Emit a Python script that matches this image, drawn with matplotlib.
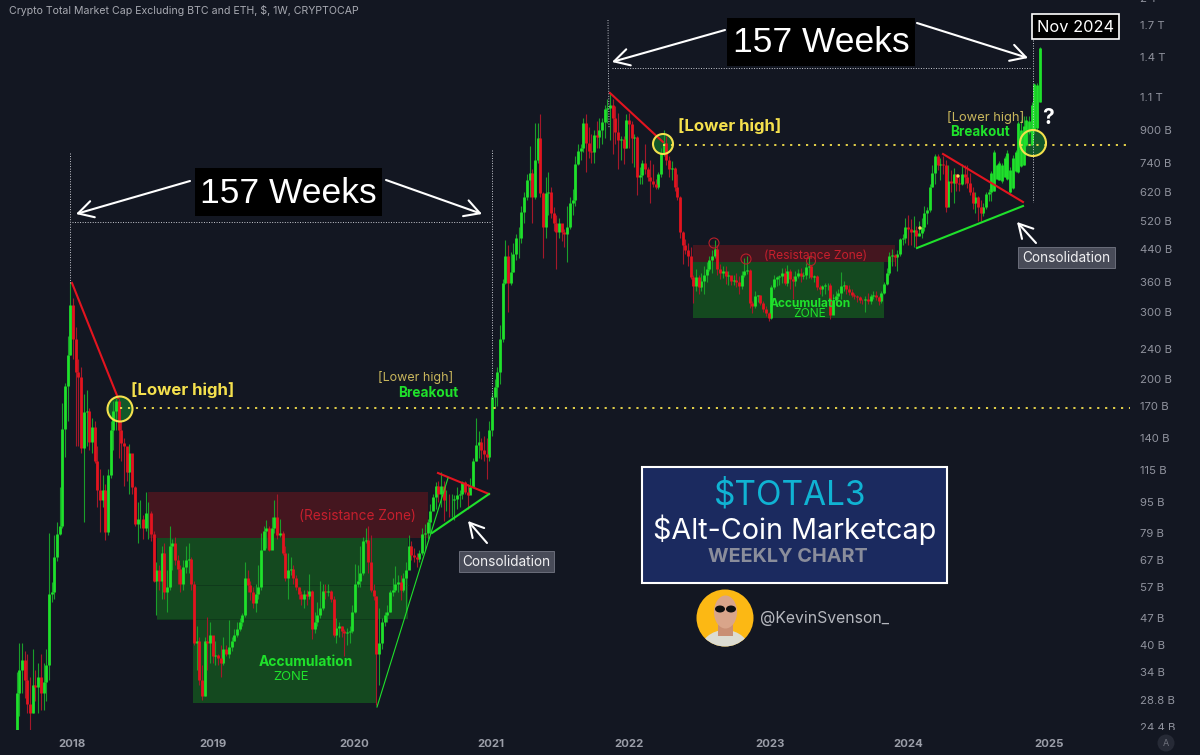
import matplotlib
matplotlib.use("Agg")
from matplotlib import pyplot as plt
from matplotlib.patches import Rectangle, Circle, Ellipse
from matplotlib.lines import Line2D
from matplotlib.transforms import Affine2D
import numpy as np

# weekly candles, values in billions
closes = [
    30, 34.5, 36.5, 32.5, 28, 26.5, 31.5, 31, 33, 30,
    32, 35.5, 54.5, 55, 68, 78.5, 82, 148, 192, 231,
    313, 255, 208, 203, 132, 164, 165, 137, 150, 122,
    102, 96, 102, 79.5, 112, 147, 165, 175, 147, 136,
    133, 114, 128, 104, 83, 86, 86, 81, 89, 89,
    78.5, 59, 63, 59, 70, 55, 57, 73, 74, 67,
    63.5, 58, 64, 67, 67.5, 58, 40.5, 41, 32.5, 29.5,
    41, 40.5, 42.5, 37.5, 37.8, 37, 36, 39, 38, 39.5,
    41, 42.5, 44, 46, 48, 60, 57.5, 55, 51.5, 54.5,
    57, 71, 80, 81, 71, 81, 87, 78, 79, 70,
    60, 63, 63.5, 60, 57, 54.5, 53, 54.5, 54, 55.5,
    44, 46, 48, 50, 55.5, 55, 55.5, 53, 42.5, 44.5,
    45, 43.5, 43, 43.2, 43.5, 49, 58, 59, 62, 75,
    75.5, 66, 56, 54, 38, 40.5, 46, 48, 49, 55,
    56, 58, 58.5, 56, 60, 63, 73, 69, 68, 67.5,
    70, 78.5, 79, 84, 90, 98, 105, 100, 105, 96,
    96.5, 96, 96.5, 97, 99, 99.5, 107, 101, 99, 104,
    122, 134, 137, 130, 127, 125, 147, 179, 190, 209,
    255, 357, 420, 358, 382, 425, 468, 470, 549, 600,
    666, 695, 600, 751, 860, 614, 500, 617, 620, 545,
    513, 485, 513, 485, 480, 500, 580, 590, 735, 795,
    810, 940, 833, 795, 790, 875, 865, 900, 943, 1020,
    1030, 1050, 970, 890, 850, 855, 810, 960, 935, 860,
    865, 680, 685, 740, 710, 680, 660, 650, 640, 690,
    785, 833, 750, 710, 715, 640, 600, 485, 450, 435,
    420, 370, 350, 370, 348, 362, 375, 390, 410, 420,
    440, 390, 380, 385, 373, 375, 362, 364, 360, 350,
    375, 385, 387, 316, 310, 330, 332, 316, 306, 298,
    290, 348, 365, 370, 372, 380, 358, 385, 365, 362,
    373, 380, 373, 375, 393, 395, 370, 372, 348, 345,
    350, 352, 354, 294, 323, 330, 336, 350, 352, 345,
    338, 333, 330, 328, 323, 322, 324, 320, 330, 333,
    328, 320, 336, 355, 380, 420, 422, 418, 425, 465,
    470, 500, 495, 485, 492, 475, 484, 500, 545, 555,
    640, 695, 770, 730, 735, 730, 566, 660, 655, 690,
    655, 650, 690, 680, 655, 620, 580, 600, 566, 545,
    566, 612, 620, 695, 790, 730, 740, 730, 760, 785,
    706, 760, 790, 940, 900, 925, 955, 950, 1050, 1190,
    1180, 1480,
]
highs = [
    34, 40.5, 40.5, 38.5, 38, 33, 39, 34.5, 36, 38,
    36, 39, 79, 58.5, 78, 84, 104, 173, 195, 260,
    360, 327, 274, 225, 215, 183, 187, 168, 158, 155,
    133, 116, 112, 106, 116, 155, 175, 178, 178, 155,
    140, 130, 135, 112, 105, 95, 96, 88, 101, 95,
    90, 80, 66, 65, 73, 74, 63, 82, 76, 77,
    69, 65, 67, 73, 74, 68, 59, 45, 42, 35.5,
    42, 47.5, 46, 42, 41, 38, 40, 42, 40, 46.5,
    42, 44, 46, 47, 48.5, 66, 63, 59, 57, 58,
    65, 79, 82, 85, 82, 87, 96, 100, 86, 80,
    73, 70, 68, 65, 61, 57, 55.5, 56, 56, 61.5,
    56, 49, 52, 59, 58, 58, 58, 56, 54, 47,
    46, 45, 44, 44.5, 45, 51, 65.5, 65, 73, 77,
    81, 82, 78, 58, 54, 50, 47, 49, 51, 56,
    60, 64.5, 61, 61, 62, 66, 78, 75, 72, 70,
    71, 81, 83, 86, 94, 100, 107, 108, 114, 108,
    102, 100, 100, 99, 104, 102, 108, 108, 106, 110,
    124, 158, 146, 140, 142, 140, 155, 185, 200, 215,
    278, 365, 462, 449, 430, 455, 480, 500, 570, 620,
    690, 820, 710, 940, 940, 995, 620, 680, 700, 640,
    565, 540, 530, 510, 495, 570, 600, 630, 770, 830,
    830, 970, 990, 920, 880, 900, 950, 970, 970, 1050,
    1090, 1130, 1090, 1040, 1000, 870, 870, 990, 1000, 950,
    880, 870, 720, 750, 830, 720, 750, 735, 670, 700,
    810, 900, 870, 770, 745, 720, 690, 605, 490, 465,
    455, 445, 375, 390, 375, 380, 395, 405, 420, 435,
    462, 450, 400, 397, 397, 385, 373, 375, 380, 372,
    385, 415, 420, 390, 320, 340, 333, 333, 320, 310,
    300, 352, 375, 372, 374, 392, 392, 398, 390, 372,
    385, 390, 392, 382, 402, 420, 398, 375, 375, 352,
    352, 358, 358, 358, 335, 340, 345, 382, 362, 352,
    352, 345, 336, 333, 330, 325, 330, 336, 335, 340,
    340, 330, 340, 360, 392, 430, 440, 425, 435, 470,
    480, 530, 540, 525, 535, 505, 521, 530, 570, 565,
    650, 730, 780, 780, 760, 770, 750, 730, 706, 715,
    690, 680, 735, 730, 730, 695, 640, 620, 605, 590,
    580, 620, 630, 705, 800, 735, 745, 740, 770, 800,
    720, 775, 800, 950, 960, 980, 980, 980, 1070, 1200,
    1195, 1490,
]
lows = [
    24, 26, 30, 29, 26.5, 24, 26.5, 28.5, 26.5, 27,
    27, 28.5, 32.5, 52, 53, 66.5, 78, 81, 125, 155,
    231, 225, 133, 133, 128, 84, 133, 130, 128, 120,
    92, 79.5, 92, 75.5, 78, 110, 130, 147, 124, 122,
    105, 108, 100, 100, 82, 74, 81, 76, 80, 76,
    75, 58.5, 48, 56, 53, 53, 49, 56, 63, 65,
    58, 55, 56, 62, 62, 56, 40, 34.5, 31.5, 28.8,
    29.5, 34.5, 36, 36, 35.5, 35.5, 33, 35.5, 37.5, 37,
    38.5, 41, 42, 43.5, 45, 47.5, 55, 52.5, 50, 49,
    53, 56, 71, 72, 70.5, 72, 79, 76, 77, 69,
    59, 53, 61, 58, 56, 53, 51, 50, 51, 53,
    41.5, 43, 45, 47, 49.5, 53, 54, 52, 42, 40.5,
    42, 42, 37.5, 40, 40.5, 43, 48.5, 57, 57, 61,
    74, 62, 55, 52.5, 27.8, 31.5, 39, 45, 46, 49,
    54, 55, 55, 52.5, 55, 49, 67, 67, 66, 64,
    66, 69, 71, 76, 79, 91, 91, 95, 92, 84.5,
    90, 87, 87, 85, 91, 92, 97, 100, 91, 100,
    104, 122, 124, 123, 122, 109, 122, 142, 168, 170,
    194, 250, 355, 300, 352, 382, 410, 415, 455, 513,
    590, 600, 513, 595, 740, 600, 415, 470, 540, 530,
    490, 390, 470, 460, 445, 406, 495, 540, 570, 730,
    750, 790, 700, 760, 740, 740, 810, 810, 830, 860,
    940, 850, 780, 830, 710, 750, 735, 810, 810, 740,
    720, 610, 650, 650, 690, 660, 580, 640, 630, 630,
    680, 770, 730, 680, 665, 625, 590, 470, 400, 425,
    395, 365, 316, 340, 335, 340, 335, 360, 385, 380,
    415, 375, 365, 368, 355, 352, 352, 352, 348, 335,
    345, 370, 378, 308, 298, 308, 318, 312, 300, 292,
    284, 288, 345, 350, 352, 358, 352, 350, 345, 325,
    350, 368, 360, 365, 365, 368, 365, 360, 342, 335,
    330, 335, 342, 288, 315, 312, 325, 325, 340, 335,
    332, 328, 325, 318, 316, 314, 300, 314, 314, 324,
    323, 312, 316, 335, 352, 375, 395, 395, 385, 420,
    450, 455, 450, 450, 445, 445, 475, 470, 490, 510,
    550, 640, 650, 706, 665, 690, 550, 580, 620, 580,
    625, 625, 645, 650, 635, 610, 560, 545, 520, 520,
    535, 560, 585, 585, 625, 670, 665, 655, 680, 665,
    615, 630, 700, 695, 720, 730, 820, 880, 825, 880,
    900, 1070,
]
# the last weeks open away from the prior close
gap_opens = {
    364: 625, 365: 670, 366: 665, 367: 660, 368: 680, 369: 670, 370: 620,
    371: 635, 372: 705, 373: 700, 374: 725, 375: 730, 376: 825, 377: 890,
    378: 825, 379: 900, 380: 910, 381: 1070,
}
first_open = 24

y_ticks = [2000, 1700, 1400, 1100, 900, 740, 620, 520, 440, 360, 300, 240, 200,
           170, 140, 115, 95, 79, 67, 57, 47, 40, 34, 28.8, 24.4]
y_tick_labels = ["2 T", "1.7 T", "1.4 T", "1.1 T", "900 B", "740 B", "620 B", "520 B",
                 "440 B", "360 B", "300 B", "240 B", "200 B", "170 B", "140 B", "115 B",
                 "95 B", "79 B", "67 B", "57 B", "47 B", "40 B", "34 B", "28.8 B", "24.4 B"]
year_weeks = [20.6, 73.1, 125.6, 176.7, 228, 280.6, 332, 384.5]
year_labels = ["2018", "2019", "2020", "2021", "2022", "2023", "2024", "2025"]

BG = "#131722"
GREEN = "#1fe12b"
RED = "#e3141f"
YELLOW = "#f4e04d"
TICK_GREY = "#8f929d"

opens = [first_open] + closes[:-1]
for k, v in gap_opens.items():
    opens[k] = v
opens = np.array(opens, dtype=float)
closes = np.array(closes, dtype=float)
highs = np.array(highs, dtype=float)
lows = np.array(lows, dtype=float)
weeks = np.arange(len(closes))
up = closes >= opens

fig = plt.figure(figsize=(12, 7.55), dpi=100, facecolor=BG)
# main axes runs a bit above the canvas so the 2 T label gets cut like the original
ax = fig.add_axes([0, 0, 1, 775 / 755], facecolor=BG)
ax.set_yscale("log")
ax.set_xlim(-6.22, 440.7)
ax.set_ylim(1700 * np.exp(-730 / 165.4), 1700 * np.exp(45 / 165.4))
ax.yaxis.tick_right()
ax.set_yticks(y_ticks, y_tick_labels)
ax.yaxis.set_minor_locator(matplotlib.ticker.NullLocator())
ax.tick_params(axis="y", length=0, pad=-43.5, labelsize=8.2, labelcolor=TICK_GREY)
ax.set_xticks([])
for side in ax.spines.values():
    side.set_visible(False)

# pixel coordinates, top-left origin, for the hand drawn overlays
PX = Affine2D().scale(1, -1).translate(0, 755)


def zone(x0, y0, x1, y1, color, z=1):
    ax.add_patch(Rectangle((x0, y0), x1 - x0, y1 - y0, transform=PX, facecolor=color,
                           edgecolor="none", zorder=z, clip_on=False))


def seg(x0, y0, x1, y1, color, lw=1.5, ls="-", z=5):
    ax.add_line(Line2D([x0, x1], [y0, y1], transform=PX, color=color, lw=lw, ls=ls,
                       zorder=z, clip_on=False))


def arrow(x0, y0, x1, y1, lw=1.5, size=12):
    ax.annotate("", xy=(x1, y1), xytext=(x0, y0), xycoords=PX, textcoords=PX, zorder=7,
                arrowprops=dict(arrowstyle="->,head_length=0.9,head_width=0.5", color="white",
                                lw=lw, mutation_scale=size, shrinkA=0, shrinkB=0))


def label(x, y, s, color="white", size=10, weight="normal", ha="center", family="Inter", z=8, **kw):
    return ax.text(x, y, s, transform=PX, color=color, fontsize=size, fontweight=weight,
                   ha=ha, va="center", family=family, zorder=z, clip_on=False, **kw)


# zones
zone(148, 492, 428, 538, "#44161f")
zone(157, 538, 408, 619, "#14491f")
zone(193, 619, 377, 703, "#14491f")
seg(193, 585, 408, 585, "#0f3a1b", lw=0.7, z=1.5)
seg(157, 619, 377, 619, "#0f3a1b", lw=0.7, z=1.5)
zone(693, 245, 895, 262, "#44161f")
zone(693, 262, 884, 318, "#14491f")

# candles
ax.vlines(weeks[up], lows[up], highs[up], color="#1a9f2a", lw=0.8, zorder=3)
ax.vlines(weeks[~up], lows[~up], highs[~up], color="#a5182a", lw=0.8, zorder=3)
ax.vlines(weeks[up], opens[up], closes[up], color=GREEN, lw=2.0, zorder=4, capstyle="butt")
ax.vlines(weeks[~up], opens[~up], closes[~up], color=RED, lw=2.0, zorder=4, capstyle="butt")

# trend lines
seg(72, 283, 118, 398, RED, lw=1.5)
seg(610, 93, 663, 142, RED, lw=1.5)
seg(438, 473, 489, 494, RED, lw=1.5)
seg(943, 154, 1023, 202, RED, lw=1.5)
seg(432, 533, 489, 494, GREEN, lw=1.5)
seg(917, 248, 1023, 206, GREEN, lw=1.5)
seg(377, 707, 448, 478, GREEN, lw=0.8)

# level lines
dots = (0, (1.2, 3.2))
seg(120, 408, 1130, 408, YELLOW, lw=1.3, ls=dots, z=4.5)
seg(663, 145, 1130, 145, YELLOW, lw=1.3, ls=dots, z=4.5)
fine = (0, (1, 1.6))
seg(70, 153, 70, 283, "#c9cbd2", lw=0.7, ls=fine)
seg(492, 150, 492, 400, "#c9cbd2", lw=0.7, ls=fine)
seg(608, 20, 609, 128, "#c9cbd2", lw=0.7, ls=fine)
seg(1033, 40, 1033, 202, "#c9cbd2", lw=0.7, ls=fine)
seg(72, 222, 490, 222, "#c9cbd2", lw=0.7, ls=fine)
seg(612, 68, 1030, 68, "#c9cbd2", lw=0.7, ls=fine)

# circles
for cx, cy, r in [(120, 409, 12.5), (663, 144, 10), (1033, 143, 13)]:
    ax.add_patch(Circle((cx, cy), r, transform=PX, facecolor="#14602a", alpha=0.9,
                        edgecolor="none", zorder=2.5, clip_on=False))
    ax.add_patch(Circle((cx, cy), r, transform=PX, facecolor="none", edgecolor=YELLOW,
                        lw=1.5, zorder=6, clip_on=False))
for cx, cy, r in [(714, 243, 5), (746, 259, 5), (811, 261, 4.5)]:
    ax.add_patch(Circle((cx, cy), r, transform=PX, facecolor="none", edgecolor="#b8202a",
                        lw=0.8, zorder=6, clip_on=False))
for cx, cy in [(958, 176), (920, 228)]:
    ax.add_patch(Circle((cx, cy), 1.7, transform=PX, facecolor="#f6d65a", edgecolor="none",
                        zorder=6, clip_on=False))

# 157 weeks labels
zone(195, 168, 382, 216, "black", z=6)
label(288.5, 193.5, "157 Weeks", size=25.5, family="Liberation Sans")
zone(727, 18, 915, 66, "black", z=6)
label(821, 42.5, "157 Weeks", size=25.5, family="Liberation Sans")
arrow(190, 181, 76, 214)
arrow(386, 180, 482, 214)
arrow(725, 30, 612, 62)
arrow(917, 23, 1028, 58)

# texts on chart
label(131, 390, "[Lower high]", YELLOW, 12.1, "bold", ha="left")
label(678, 126, "[Lower high]", YELLOW, 12.1, "bold", ha="left")
label(378, 378, "[Lower high]", "#c8b65c", 9, ha="left")
label(398, 393, "Breakout", GREEN, 9.8, "bold", ha="left")
label(947, 117, "[Lower high]", "#c8b65c", 9.3, ha="left")
label(950, 132, "Breakout", GREEN, 9.7, "bold", ha="left")
label(357, 516, "(Resistance Zone)", "#c61f2d", 9.8)
label(816, 256, "(Resistance Zone)", "#c61f2d", 8.7)
label(306, 662, "Accumulation", GREEN, 10, "bold")
label(291, 677, "ZONE", GREEN, 9.4)
label(810, 304, "Accumulation", GREEN, 8.6, "bold")
label(810, 314, "ZONE", GREEN, 8.6)
label(1048, 118, "?", "white", 15, "bold")

# consolidation tags
for x0, y0, x1, y1 in [(459, 551, 554, 572), (1018, 247, 1115, 268)]:
    ax.add_patch(Rectangle((x0, y0), x1 - x0, y1 - y0, transform=PX, facecolor="#484b58",
                           edgecolor="#6a6d7a", lw=0.7, zorder=6, clip_on=False))
    label((x0 + x1) / 2, (y0 + y1) / 2, "Consolidation", "#f0f0f2", 9.8)
arrow(487, 543, 468, 521, lw=1.5, size=11)
arrow(1036, 243, 1017, 222, lw=1.5, size=11)

# date tag
ax.add_patch(Rectangle((1032, 14), 87, 25, transform=PX, facecolor="black", edgecolor="white",
                       lw=1.2, zorder=7, clip_on=False))
label(1075.5, 27, "Nov 2024", "white", 11.8)

# title
label(9, 11, "Crypto Total Market Cap Excluding BTC and ETH, $, 1W, CRYPTOCAP", "#a8aab2", 7.6, ha="left")

# navy panel
ax.add_patch(Rectangle((642, 467), 305, 116, transform=PX, facecolor="#1b2a5f", edgecolor="white",
                       lw=1.5, zorder=7, clip_on=False))
label(790, 495, "$TOTAL3", "#10b3d3", 24)
label(795, 530, "$Alt-Coin Marketcap", "white", 20.7)
label(788, 557, "WEEKLY CHART", "#8a8d9b", 14.3, "bold")

# avatar
face_bg = Circle((725, 618), 28.5, transform=PX, facecolor="#fcb814", edgecolor="none", zorder=7, clip_on=False)
ax.add_patch(face_bg)
shirt = Ellipse((725, 652), 50, 44, transform=PX, facecolor="#dcdcd2", edgecolor="none", zorder=7.1)
ax.add_patch(shirt)
shirt.set_clip_path(face_bg)
ax.add_patch(Rectangle((718, 622), 15, 14, transform=PX, facecolor="#c98f74", edgecolor="none", zorder=7.2, clip_on=False))
ax.add_patch(Ellipse((725.5, 612), 23, 33, transform=PX, facecolor="#d9a58a", edgecolor="none", zorder=7.3, clip_on=False))
ax.add_patch(Ellipse((720, 609), 10, 7, transform=PX, facecolor="#101010", edgecolor="none", zorder=7.4, clip_on=False))
ax.add_patch(Ellipse((731, 609), 10, 7, transform=PX, facecolor="#101010", edgecolor="none", zorder=7.4, clip_on=False))
label(760, 618, "@KevinSvenson_", "#b5b7be", 11.4, ha="left")

# time scale strip, covers the bottom of the price scale
ax_time = fig.add_axes([0, 0, 1, 25 / 755], facecolor=BG)
ax_time.set_xlim(ax.get_xlim())
ax_time.set_yticks([])
ax_time.xaxis.tick_top()
ax_time.set_xticks(year_weeks, year_labels)
ax_time.tick_params(axis="x", length=0, pad=-13.5, labelsize=8.2, labelcolor="#9b9ea8")
for t in ax_time.get_xticklabels():
    t.set_fontweight("bold")
    t.set_family("Inter")
for side in ax_time.spines.values():
    side.set_visible(False)
for t in ax.get_yticklabels():
    t.set_family("Inter")

# auto scale badge
ax_time.add_patch(Circle((1166, 743), 8.5, transform=PX, facecolor="#262a36", edgecolor="none", clip_on=False))
ax_time.text(1166, 743, "A", transform=PX, color="#6f727d", fontsize=6.5, ha="center", va="center", family="Inter")

assert len(closes) == len(highs) == len(lows)
fig.savefig("out.png", dpi=100, facecolor=BG)
